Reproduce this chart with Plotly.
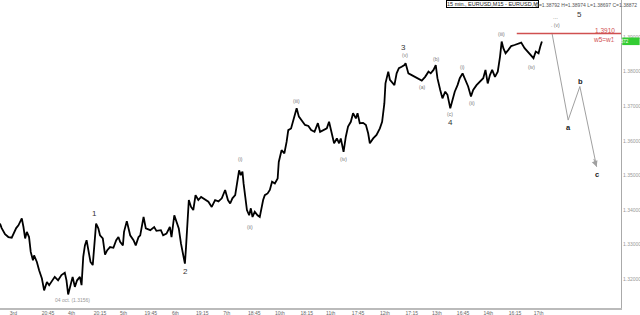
import plotly.graph_objects as go

# ---- data: 15-min bar index (from start of 3rd Oct) and close price, EURUSD ----
bar_index = [
    0, 3, 9, 15, 21, 24, 29, 33, 37, 39,
    42, 45, 48, 52, 55, 59, 61, 66, 70, 75,
    79, 84, 88, 93, 98, 104, 110, 116, 119, 122,
    127, 130, 134, 138, 143, 146, 149, 152, 155, 158,
    162, 166, 169, 172, 176, 179, 184, 188, 192, 197,
    203, 208, 212, 215, 220, 222, 227, 233, 239, 243,
    248, 251, 257, 261, 269, 276, 280, 288, 292, 298,
    304, 307, 312, 316, 320, 324, 328, 331, 333, 336,
    338, 342, 346, 350, 355, 360, 367, 373, 379, 385,
    391, 397, 403, 408, 412, 416, 421, 425, 428, 431,
    434, 436, 439, 442, 446, 449, 452, 456, 461, 465,
    471, 474, 479, 483, 487, 492, 497, 499,
    504, 509, 513, 516, 521, 525, 531, 535, 541, 546, 552,
    557, 563, 569, 573, 579, 585, 589, 594, 598, 603,
    607, 610, 615, 619, 623, 628, 632, 637, 640, 644,
    650, 655, 659, 662, 668, 674, 680, 684, 688, 690,
    695, 698, 701, 706, 710, 714, 719, 724, 726, 731,
    737, 743, 749, 755, 761, 767, 771, 776, 780, 783,
    788, 792, 797, 801, 806, 810, 814, 819, 823, 828,
    832, 838, 843, 847, 853, 859, 865, 869, 873, 877,
    881, 886, 891, 895, 898, 901, 905, 910, 915, 921,
    927, 933, 939, 945, 950, 955, 959, 964, 967, 970,
]
close = [
    1.3361, 1.3348, 1.3330, 1.3322, 1.3320, 1.3330, 1.3348, 1.3356, 1.3368, 1.3376,
    1.3351, 1.3318, 1.3337, 1.3322, 1.3279, 1.3255, 1.3269, 1.3250, 1.3226, 1.3202,
    1.3168, 1.3192, 1.3183, 1.3197, 1.3207, 1.3197, 1.3212, 1.3219, 1.3197, 1.3156,
    1.3188, 1.3207, 1.3178, 1.3197, 1.3207, 1.3183, 1.3265, 1.3298, 1.3313, 1.3284,
    1.3250, 1.3241, 1.3308, 1.3361, 1.3347, 1.3327, 1.3318, 1.3271, 1.3284, 1.3293,
    1.3291, 1.3313, 1.3322, 1.3308, 1.3298, 1.3337, 1.3368, 1.3327, 1.3313, 1.3298,
    1.3322, 1.3327, 1.3380, 1.3347, 1.3342, 1.3351, 1.3340, 1.3342, 1.3327, 1.3332,
    1.3351, 1.3322, 1.3385, 1.3366, 1.3347, 1.3303, 1.3265, 1.3245, 1.3293, 1.3380,
    1.3429, 1.3409, 1.3400, 1.3443, 1.3429, 1.3438, 1.3429, 1.3424, 1.3409, 1.3429,
    1.3425, 1.3434, 1.3458, 1.3429, 1.3419, 1.3434, 1.3443, 1.3487, 1.3515, 1.3501,
    1.3511, 1.3477, 1.3429, 1.3400, 1.3385, 1.3405, 1.3380, 1.3395, 1.3385, 1.3380,
    1.3429, 1.3443, 1.3448, 1.3458, 1.3482, 1.3477, 1.3491, 1.3539,
    1.3573, 1.3564, 1.3597, 1.3631, 1.3636, 1.3660, 1.3694, 1.3670, 1.3655, 1.3646, 1.3643,
    1.3631, 1.3626, 1.3651, 1.3626, 1.3631, 1.3636, 1.3655, 1.3622, 1.3593, 1.3607,
    1.3593, 1.3607, 1.3568, 1.3612, 1.3641, 1.3655, 1.3680, 1.3665, 1.3680, 1.3651,
    1.3652, 1.3646, 1.3622, 1.3593, 1.3607, 1.3617, 1.3636, 1.3655, 1.3708, 1.3766,
    1.3800, 1.3776, 1.3771, 1.3761, 1.3795, 1.3810, 1.3814, 1.3819, 1.3824, 1.3795,
    1.3790, 1.3785, 1.3781, 1.3774, 1.3785, 1.3800, 1.3795, 1.3805, 1.3819, 1.3781,
    1.3747, 1.3723, 1.3742, 1.3733, 1.3694, 1.3718, 1.3742, 1.3761, 1.3781, 1.3795,
    1.3781, 1.3757, 1.3728, 1.3747, 1.3761, 1.3771, 1.3781, 1.3805, 1.3766, 1.3790,
    1.3805, 1.3785, 1.3800, 1.3843, 1.3887, 1.3868, 1.3853, 1.3863, 1.3874, 1.3877,
    1.3880, 1.3884, 1.3868, 1.3858, 1.3848, 1.3839, 1.3858, 1.3853, 1.3872, 1.3887,
]

# projected path: end of wave 5, then a-b-c correction
proj_bar = [988, 1017, 1038, 1068]
proj_price = [1.3912, 1.3660, 1.3757, 1.3525]

target_price = 1.3910
target_start_bar = 925
last_price = 1.38872

# x-axis labels (bar index where each label sits)
tick_bars = [24, 86, 128, 179, 221, 270, 314, 362, 406, 455,
             501, 549, 592, 641, 689, 737, 782, 829, 874, 922, 964]
tick_text = ["3rd", "20:45", "4th", "20:15", "5th", "19:45", "6th", "19:15", "7th", "18:45",
             "10th", "18:15", "11th", "17:45", "12th", "17:15", "13th", "16:45", "14th", "16:15", "17th"]
y_ticks = [1.32, 1.33, 1.34, 1.35, 1.36, 1.37, 1.38, 1.39]

# wave labels
major_text = ["1", "2", "3", "4"]
major_bar = [170, 332, 723, 807]
major_price = [1.3391, 1.3223, 1.3871, 1.3652]

minor_text = ["(i)", "(ii)", "(iii)", "(iv)", "(v)", "(a)", "(b)", "(c)", "(i)", "(ii)", "(iii)", "(iv)"]
minor_bar = [430, 448, 531, 615, 725, 755, 780, 806, 828, 845, 898, 952]
minor_price = [1.3547, 1.3350, 1.3716, 1.3549, 1.3848, 1.3757, 1.3836, 1.3678, 1.3814, 1.3710, 1.3908, 1.3814]

abc_text = ["a", "b", "c"]
abc_bar = [1017, 1039, 1069]
abc_price = [1.3639, 1.3771, 1.3503]

X_MAX = 1111.6
Y_MIN, Y_MAX = 1.3117, 1.4007

FONT = "Liberation Sans, Arial, sans-serif"

fig = go.Figure()
fig.add_trace(go.Scatter(x=bar_index, y=close, mode="lines",
                         line=dict(color="black", width=1.8), hoverinfo="skip", showlegend=False))
fig.add_trace(go.Scatter(x=proj_bar, y=proj_price, mode="lines",
                         line=dict(color="#a0a0a0", width=1), hoverinfo="skip", showlegend=False))

annotations = []
for t, b, p in zip(major_text, major_bar, major_price):
    annotations.append(dict(x=b, y=p, text=t, showarrow=False, xref="x", yref="y",
                            font=dict(family=FONT, size=8, color="#333333")))
for t, b, p in zip(minor_text, minor_bar, minor_price):
    annotations.append(dict(x=b, y=p, text=t, showarrow=False, xref="x", yref="y",
                            font=dict(family=FONT, size=5, color="#777777")))
for t, b, p in zip(abc_text, abc_bar, abc_price):
    annotations.append(dict(x=b, y=p, text="<b>" + t + "</b>", showarrow=False, xref="x", yref="y",
                            font=dict(family=FONT, size=7.5, color="#222222")))

# wave 5 / (v) marks at top of projection
annotations += [
    dict(x=995, y=1.3958, text="...", showarrow=False, xref="x", yref="y",
         font=dict(family=FONT, size=6, color="#777777")),
    dict(x=1038, y=1.3964, text="5", showarrow=False, xref="x", yref="y",
         font=dict(family=FONT, size=8, color="#333333")),
    dict(x=994, y=1.3935, text=". (v)", showarrow=False, xref="x", yref="y",
         font=dict(family=FONT, size=5, color="#777777")),
]

# arrow at the end of the projection
annotations.append(dict(x=proj_bar[-1], y=proj_price[-1], ax=1062, ay=1.3552,
                        xref="x", yref="y", axref="x", ayref="y", text="",
                        showarrow=True, arrowhead=2, arrowsize=1.2, arrowwidth=1,
                        arrowcolor="#a0a0a0"))

# red target labels
annotations += [
    dict(x=0.993, y=1.3920, xref="paper", yref="y", xanchor="right", text="1.3910",
         showarrow=False, font=dict(family=FONT, size=6.5, color="#d05050")),
    dict(x=0.993, y=1.3892, xref="paper", yref="y", xanchor="right", text="w5=w1",
         showarrow=False, font=dict(family=FONT, size=6.5, color="#d05050")),
]

# low marker
annotations.append(dict(x=129, y=1.3139, text="04 oct. (1.3156)", showarrow=False, xref="x", yref="y",
                        font=dict(family=FONT, size=5, color="#999999")))

# header
annotations += [
    dict(x=446 / 621, y=1.0, xref="paper", yref="paper", xanchor="left", yanchor="top",
         text="15 min., EURUSD,M15 - EURUSD,M", showarrow=False, bgcolor="white",
         bordercolor="black", borderwidth=1, borderpad=0,
         font=dict(family=FONT, size=5.5, color="#222222")),
    dict(x=533 / 621, y=1.0, xref="paper", yref="paper", xanchor="left", yanchor="top",
         text="O=1.38792 H=1.38974 L=1.38697 C=1.38872", showarrow=False,
         font=dict(family=FONT, size=5, color="#555555")),
]

# last price box text
annotations.append(dict(x=1.016, y=last_price, xref="paper", yref="y", text=f"{last_price:.5f}",
                        showarrow=False, font=dict(family=FONT, size=4.5, color="white")))

shapes = [
    dict(type="line", xref="x", yref="y", x0=target_start_bar, x1=X_MAX,
         y0=target_price, y1=target_price, line=dict(color="#d05050", width=1.5)),
    dict(type="rect", xref="paper", yref="y", x0=1.002, x1=1.03,
         y0=last_price - 0.00105, y1=last_price + 0.00115,
         fillcolor="#33cc33", line=dict(width=0)),
]

fig.update_layout(
    width=640, height=315,
    margin=dict(l=0, r=19, t=0, b=7),
    paper_bgcolor="white", plot_bgcolor="white",
    showlegend=False,
    annotations=annotations,
    shapes=shapes,
    xaxis=dict(range=[0, X_MAX], showgrid=False, zeroline=False, showline=True,
               linecolor="#bbbbbb", linewidth=1.5, tickmode="array", tickvals=tick_bars,
               ticktext=tick_text, ticks="", ticklabelstandoff=-1,
               tickfont=dict(family=FONT, size=5, color="#666666"),
               automargin=False, fixedrange=True),
    yaxis=dict(range=[Y_MIN, Y_MAX], side="right", showgrid=False, zeroline=False,
               showline=True, linecolor="#aaaaaa", linewidth=1, tickmode="array",
               tickvals=y_ticks, ticktext=[f"{v:.5f}" for v in y_ticks], ticks="",
               tickfont=dict(family=FONT, size=5, color="#999999"), automargin=False,
               fixedrange=True),
)

fig.write_html("out.html", config={"displayModeBar": False})
